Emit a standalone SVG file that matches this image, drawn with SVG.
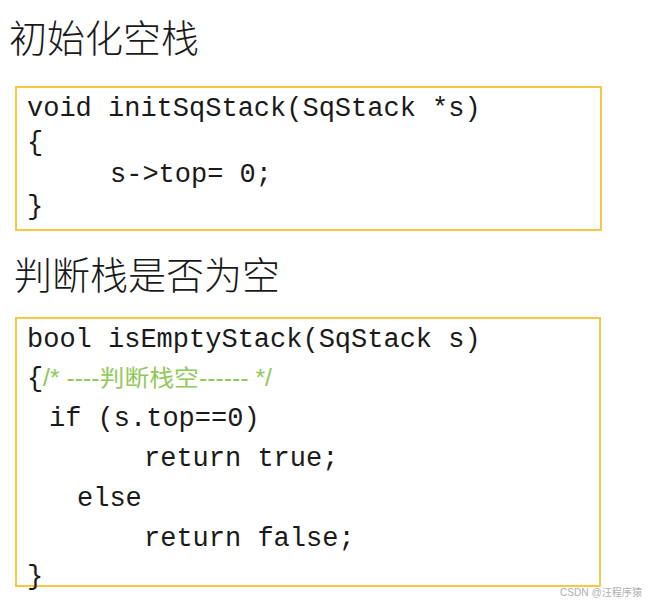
<svg xmlns="http://www.w3.org/2000/svg" width="650" height="603" viewBox="0 0 650 603">
<style>
.title{font-family:"Noto Sans CJK SC","Noto Sans",sans-serif;font-size:38px;font-weight:300;fill:#1a1a1a}
.box{fill:#fff;stroke:#F6C844;stroke-width:2}
.code{font-family:"Liberation Mono","DejaVu Sans Mono",monospace;font-size:27px;fill:#1a1a1a;white-space:pre}
.cmt{font-family:"Liberation Sans","Noto Sans CJK SC",sans-serif;font-size:23px;fill:#92C95A}
.wm{font-family:"Liberation Sans","Noto Sans CJK SC",sans-serif;font-size:10.5px;fill:#b0b0b0}
</style>
<rect width="650" height="603" fill="#fff"/>
<g id="title1"><text class="title" x="9" y="52">初始化空栈</text></g>
<g id="box1">
<rect class="box" x="16" y="87" width="585" height="143"/>
<text class="code" x="27" y="116">void initSqStack(SqStack *s)</text>
<text class="code" x="27" y="150">{</text>
<text class="code" x="110" y="182">s-&gt;top= 0;</text>
<text class="code" x="27" y="214">}</text>
</g>
<g id="title2"><text class="title" x="14" y="289">判断栈是否为空</text></g>
<g id="box2">
<rect class="box" x="16" y="318" width="584" height="268"/>
<text class="code" x="27" y="347">bool isEmptyStack(SqStack s)</text>
<text class="code" x="27" y="386">{</text>
<text class="cmt" x="43" y="386" textLength="229" lengthAdjust="spacingAndGlyphs">/* ----判断栈空------ */</text>
<text class="code" x="49" y="426">if (s.top==0)</text>
<text class="code" x="144" y="466">return true;</text>
<text class="code" x="77" y="506">else</text>
<text class="code" x="144" y="546">return false;</text>
<text class="code" x="27" y="584">}</text>
</g>
<g id="connectors"></g>
<text class="wm" x="560" y="596" textLength="82" lengthAdjust="spacingAndGlyphs">CSDN @汪程序猿</text>
</svg>
